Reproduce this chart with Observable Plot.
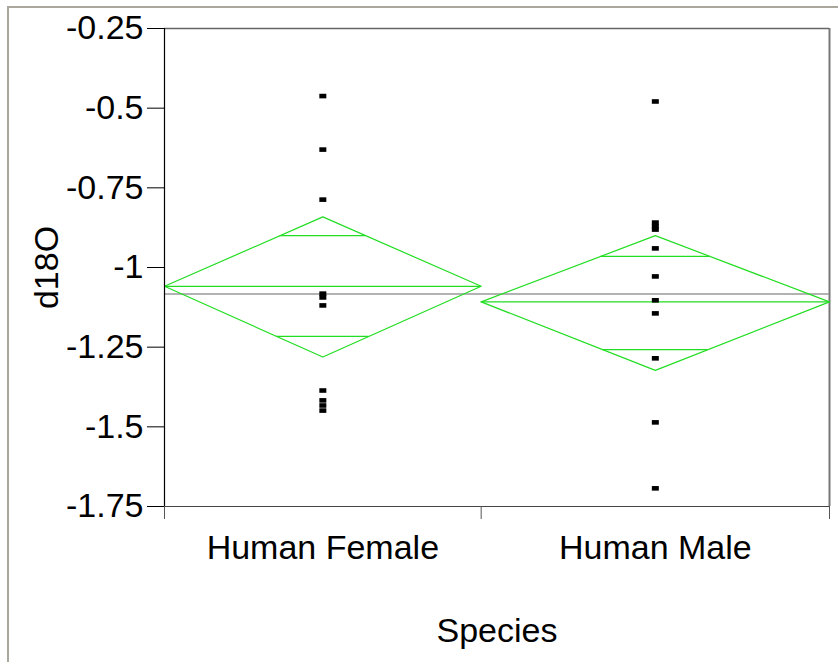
<!DOCTYPE html>
<html><head><meta charset="utf-8">
<script src="https://cdn.jsdelivr.net/npm/d3@7"></script>
<script src="https://cdn.jsdelivr.net/npm/@observablehq/plot@0.6"></script>
<style>
body{margin:0;background:#fff;}
#wrap{position:relative;width:838px;height:662px;overflow:hidden;}
#chart{position:absolute;left:0;top:0;}
#border{position:absolute;left:7px;top:6px;width:900px;height:700px;border-left:2px solid #aaa89c;border-top:2px solid #aaa89c;pointer-events:none;}
</style></head><body>
<div id="wrap"><div id="chart"></div><div id="border"></div></div>
<script>
const categories = ["Human Female", "Human Male"];
const sampleSizes = [10, 11];
const femaleValues = [-0.462, -0.630, -0.787, -1.082, -1.094, -1.119, -1.386, -1.417, -1.433, -1.449];
const maleValues = [-0.479, -0.859, -0.871, -0.881, -0.940, -1.028, -1.103, -1.144, -1.285, -1.486, -1.693];
const groupMeans = [-1.059, -1.108];
const ciUpper = [-0.841, -0.900];
const ciLower = [-1.281, -1.323];
const overlapUpper = [-0.900, -0.965];
const overlapLower = [-1.216, -1.258];
const grandMean = -1.083;
const yTicks = [-0.25, -0.5, -0.75, -1, -1.25, -1.5, -1.75];
const yTickLabels = ["-0.25", "-0.5", "-0.75", "-1", "-1.25", "-1.5", "-1.75"];
const xTitle = "Species";
const yTitle = "d18O";

const green = "#22dd22";
const font = "'Liberation Sans', Arial, sans-serif";
const fs = 34;

// band positions proportional to sample size
const starts = [], ends = [], centers = [];
let acc = 0;
sampleSizes.forEach((n, i) => { starts.push(acc); ends.push(acc + n); centers.push(acc + n / 2); acc += n; });
const total = acc;

const groups = categories.map((c, i) => ({
  cat: c, x0: starts[i], x1: ends[i], xc: centers[i],
  mean: groupMeans[i], up: ciUpper[i], lo: ciLower[i], oUp: overlapUpper[i], oLo: overlapLower[i]
}));

const diamondRows = [];
groups.forEach(g => {
  [[g.x0, g.mean], [g.xc, g.up], [g.x1, g.mean], [g.xc, g.lo], [g.x0, g.mean]]
    .forEach(([x, y]) => diamondRows.push({cat: g.cat, x, y}));
});

const overlapRows = [];
groups.forEach(g => {
  const hw = (g.x1 - g.x0) / 2;
  const fU = 1 - (g.oUp - g.mean) / (g.up - g.mean);
  const fL = 1 - (g.mean - g.oLo) / (g.mean - g.lo);
  overlapRows.push({y: g.oUp, x1: g.xc - hw * fU, x2: g.xc + hw * fU});
  overlapRows.push({y: g.oLo, x1: g.xc - hw * fL, x2: g.xc + hw * fL});
});

const points = [
  ...femaleValues.map(v => ({x: centers[0], y: v})),
  ...maleValues.map(v => ({x: centers[1], y: v}))
];

const rectSymbol = {draw(ctx) { ctx.rect(-3.5, -2.3, 7, 4.6); }};

const labelFor = new Map(yTicks.map((t, i) => [t, yTickLabels[i]]));

const chart = Plot.plot({
  width: 838, height: 662,
  marginLeft: 164, marginRight: 9, marginTop: 28, marginBottom: 156,
  style: {background: "transparent", fontFamily: font, color: "#000"},
  x: {type: "linear", domain: [0, total]},
  y: {domain: [-1.75, -0.25]},
  marks: [
    Plot.ruleY([-0.25], {stroke: "#666", strokeWidth: 1.5}),
    Plot.ruleY([-1.75], {stroke: "#444", strokeWidth: 1.2}),
    Plot.ruleX([total], {stroke: "#777", strokeWidth: 2}),
    Plot.ruleY([grandMean], {stroke: "#999", strokeWidth: 1.5}),
    Plot.line(diamondRows, {x: "x", y: "y", z: "cat", stroke: green, strokeWidth: 1.2}),
    Plot.ruleY(groups, {y: "mean", x1: "x0", x2: "x1", stroke: green, strokeWidth: 1.2}),
    Plot.ruleY(overlapRows, {y: "y", x1: "x1", x2: "x2", stroke: green, strokeWidth: 1.2}),
    Plot.dot(points, {x: "x", y: "y", symbol: rectSymbol, fill: "#000", stroke: "none", r: 3}),
    Plot.axisY({ticks: yTicks, tickSize: 17, tickPadding: 4, fontSize: fs, label: null,
      tickFormat: d => labelFor.get(d), stroke: "#000", strokeOpacity: 1}),
    Plot.ruleX([0], {stroke: "#000", strokeWidth: 1.2}),
    Plot.axisX({ticks: [0, sampleSizes[0], total], tickSize: 13, tickFormat: () => "", label: null, stroke: "#555", strokeOpacity: 1}),
    Plot.text(categories, {x: centers, frameAnchor: "bottom", dy: 52, lineAnchor: "bottom", fontSize: fs, fill: "#000"}),
    Plot.text([xTitle], {frameAnchor: "bottom", dy: 135, lineAnchor: "bottom", fontSize: fs, fill: "#000"}),
    Plot.text([yTitle], {frameAnchor: "left", textAnchor: "middle", dx: -107, rotate: -90, lineAnchor: "bottom", fontSize: fs, fill: "#000"})
  ]
});
document.getElementById("chart").appendChild(chart);
</script>
</body></html>
